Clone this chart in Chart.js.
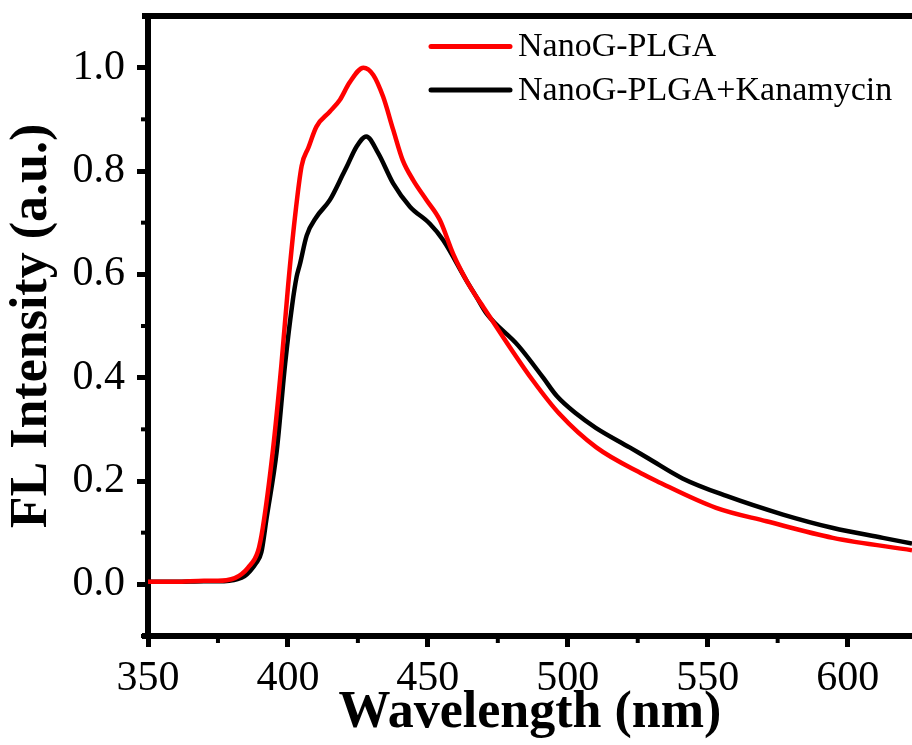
<!DOCTYPE html>
<html><head><meta charset="utf-8">
<script src="https://cdn.jsdelivr.net/npm/chart.js@4/dist/chart.umd.min.js"></script>
<style>html,body{margin:0;padding:0;background:#fff;}canvas{display:block;}</style>
</head><body>
<canvas id="c" width="912" height="745"></canvas>
<script>
const seriesNames = ['NanoG-PLGA', 'NanoG-PLGA+Kanamycin'];
const seriesColors = ['#ff0000', '#000000'];

const redWavelength = [350,360,370,375,378,381,383.5,385.7,389.3,391,394.6,397.7,400.1,402.5,404.9,407.3,410.2,415,418.6,422,427,430.5,434,437.6,441,444.8,449.5,454.3,459,463.8,467.4,469.8,479.3,487.6,497,510.2,526.9,531.7,553,571,594.7,623];
const redIntensity = [0.005,0.005,0.007,0.007,0.008,0.012,0.02,0.032,0.064,0.109,0.258,0.427,0.58,0.71,0.81,0.845,0.886,0.915,0.938,0.971,1.0,0.986,0.944,0.88,0.821,0.782,0.744,0.705,0.64,0.588,0.556,0.537,0.459,0.394,0.33,0.265,0.213,0.2,0.148,0.122,0.09,0.066];

const blackWavelength = [350,360,370,375,379,382,384.5,386.5,388.5,390.5,392.4,396,399,401.5,403.1,404.3,406.7,410.2,415,419.8,421,424.5,428,432.3,437.6,443.6,450.7,455.5,463.8,467.4,471,482.3,491.2,496,503.1,510,522.1,529,541,556.7,576.9,594.8,612.6,623];
const blackIntensity = [0.005,0.005,0.006,0.006,0.007,0.01,0.016,0.026,0.04,0.062,0.129,0.258,0.427,0.54,0.595,0.62,0.675,0.711,0.744,0.795,0.808,0.847,0.867,0.834,0.776,0.731,0.698,0.666,0.588,0.556,0.524,0.462,0.4,0.365,0.33,0.303,0.265,0.243,0.205,0.171,0.135,0.109,0.09,0.079];

const xMajorTicks = [350,400,450,500,550,600];
const xMinorTicks = [375,425,475,525,575];
const yMajorTicks = [0,0.2,0.4,0.6,0.8,1.0];
const yMinorTicks = [-0.1,0.1,0.3,0.5,0.7,0.9];
const xRange = [350, 623];
const yRange = [-0.1, 1.1];
const xTitle = 'Wavelength (nm)';
const yTitle = 'FL Intensity (a.u.)';

function toPoints(xs, ys) { return xs.map((x, i) => ({x: x, y: ys[i]})); }

const SERIF = "'Liberation Serif', 'Times New Roman', serif";
const AXW = 6;

const framePlugin = {
  id: 'frame',
  afterDraw(chart) {
    const ctx = chart.ctx;
    const a = chart.chartArea;
    const xs = chart.scales.x, ys = chart.scales.y;
    ctx.save();
    ctx.strokeStyle = '#000';
    ctx.lineCap = 'butt';
    ctx.lineWidth = AXW;
    ctx.beginPath();
    ctx.moveTo(a.left - 6, a.top);
    ctx.lineTo(chart.width, a.top);
    ctx.stroke();
    ctx.beginPath();
    ctx.moveTo(a.left - 6, a.bottom);
    ctx.lineTo(a.left + 3, a.bottom);
    ctx.stroke();
    ctx.lineWidth = 4;
    xMinorTicks.forEach(v => {
      const px = xs.getPixelForValue(v);
      ctx.beginPath(); ctx.moveTo(px, a.bottom); ctx.lineTo(px, a.bottom + 7); ctx.stroke();
    });
    yMinorTicks.forEach(v => {
      const py = ys.getPixelForValue(v);
      ctx.beginPath(); ctx.moveTo(a.left, py); ctx.lineTo(a.left - 7, py); ctx.stroke();
    });
    ctx.font = '34px ' + SERIF;
    ctx.textBaseline = 'middle';
    ctx.textAlign = 'left';
    chart.data.datasets.forEach((ds, i) => {
      const y = 46.5 + i * 43.5;
      ctx.strokeStyle = ds.borderColor;
      ctx.lineWidth = 5;
      ctx.lineCap = 'round';
      ctx.beginPath(); ctx.moveTo(431, y); ctx.lineTo(510, y); ctx.stroke();
      ctx.fillStyle = '#000';
      ctx.fillText(ds.label, 518, y + 1);
    });
    ctx.restore();
  }
};

new Chart(document.getElementById('c'), {
  type: 'line',
  data: {
    datasets: [
      { label: seriesNames[0], data: toPoints(redWavelength, redIntensity), borderColor: seriesColors[0], borderWidth: 4.5, pointRadius: 0, cubicInterpolationMode: 'monotone', fill: false },
      { label: seriesNames[1], data: toPoints(blackWavelength, blackIntensity), borderColor: seriesColors[1], borderWidth: 4.5, pointRadius: 0, cubicInterpolationMode: 'monotone', fill: false }
    ]
  },
  options: {
    responsive: false,
    animation: false,
    devicePixelRatio: 1,
    layout: { padding: { top: 16, right: 0, left: 0, bottom: 0 } },
    plugins: { legend: { display: false }, tooltip: { enabled: false } },
    scales: {
      x: {
        type: 'linear', position: 'bottom', min: xRange[0], max: xRange[1],
        afterBuildTicks: s => { s.ticks = xMajorTicks.map(v => ({value: v})); },
        afterFit: s => { s.height = 109; s.paddingLeft = 0; s.paddingRight = 0; },
        ticks: { font: { family: SERIF, size: 42 }, color: '#000', padding: 7, maxRotation: 0, autoSkip: false },
        grid: { drawOnChartArea: false, drawTicks: true, tickLength: 11, tickWidth: 5, tickColor: '#000' },
        border: { display: true, width: AXW, color: '#000' },
        title: { display: true, text: xTitle, font: { family: SERIF, size: 52, weight: 'bold' }, color: '#000', padding: { top: 0, bottom: 0 } }
      },
      y: {
        type: 'linear', position: 'left', min: yRange[0], max: yRange[1],
        afterBuildTicks: s => { s.ticks = yMajorTicks.map(v => ({value: v})); },
        afterFit: s => { s.width = 148; s.paddingTop = 0; s.paddingBottom = 0; },
        ticks: { font: { family: SERIF, size: 42 }, color: '#000', padding: 12, callback: v => Number(v).toFixed(1) },
        grid: { drawOnChartArea: false, drawTicks: true, tickLength: 11, tickWidth: 5, tickColor: '#000' },
        border: { display: true, width: AXW, color: '#000' },
        title: { display: true, text: yTitle, font: { family: SERIF, size: 52, weight: 'bold' }, color: '#000', padding: { top: 1, bottom: 0 } }
      }
    }
  },
  plugins: [framePlugin]
});
</script>
</body></html>
